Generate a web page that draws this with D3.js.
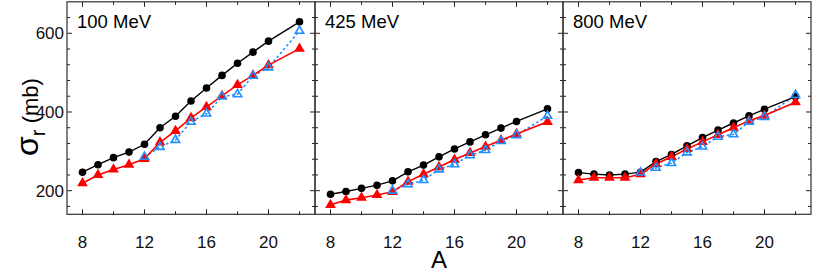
<!DOCTYPE html>
<html><head><meta charset="utf-8">
<script src="https://cdn.jsdelivr.net/npm/d3@7"></script>
<style>
html,body{margin:0;padding:0;background:#fff;}
text{font-family:"Liberation Sans Narrow","Liberation Sans",Arial,sans-serif;}
</style></head>
<body><svg id="c" width="820" height="275"></svg>
<script>
const massNumbers = [8,9,10,11,12,13,14,15,16,17,18,19,20,22];
const blueMass = [12,13,14,15,16,17,18,19,20,22];
const energies = ["100 MeV","425 MeV","800 MeV"];
const black100 = [247,266,284,298,318,360,389,428,461,493,524,552,580,629];
const red100   = [219,240,254,266,281,323,352,385,413,441,469,493,519,561];
const blue100  = [286,311,329,375,396,439,445,492,513,606];
const black425 = [191,198,206,214,225,248,265,286,306,324,342,359,376,408];
const red425   = [164,176,182,189,197,223,242,260,279,296,312,328,344,375];
const blue425  = [200,216,227,254,267,290,303,326,341,390];
const black800 = [246,242,240,242,247,274,292,314,335,354,372,390,407,439];
const red800   = [227,233,233,233,242,268,286,306,324,342,360,378,391,425];
const blue800  = [246,258,270,297,312,337,343,375,387,443];
const xTicks = [8,10,12,14,16,18,20,22];
const xTickLabels = [8,12,16,20];
const yTicks = [160,200,240,280,320,360,400,440,480,520,560,600,640];
const yTickLabels = [200,400,600];

const panels = [
  {label:energies[0], black:black100, red:red100, blue:blue100},
  {label:energies[1], black:black425, red:red425, blue:blue425},
  {label:energies[2], black:black800, red:red800, blue:blue800}
];

(function(){
const svg = d3.select("#c");
const pTop=1.8, pBottom=214.3, left0=67, pw=248;
const y = d3.scaleLinear().domain([140,680]).range([pBottom,pTop]);
const blueC="#1f8fff";

panels.forEach((p,i)=>{
  const L = left0 + i*pw, R = L+pw;
  const x = d3.scaleLinear().domain([7,23]).range([L,R]);
  const g = svg.append("g");
  xTicks.forEach(t=>{
    const major = xTickLabels.includes(t);
    const len = major?5:3;
    g.append("line").attr("x1",x(t)).attr("x2",x(t)).attr("y1",pBottom).attr("y2",pBottom-len).attr("stroke","#222").attr("stroke-width",1);
    g.append("line").attr("x1",x(t)).attr("x2",x(t)).attr("y1",pTop).attr("y2",pTop+len).attr("stroke","#222").attr("stroke-width",1);
  });
  yTicks.forEach(t=>{
    const major = yTickLabels.includes(t);
    const len = major?5:3;
    g.append("line").attr("x1",L).attr("x2",L+len).attr("y1",y(t)).attr("y2",y(t)).attr("stroke","#222");
    g.append("line").attr("x1",R).attr("x2",R-len).attr("y1",y(t)).attr("y2",y(t)).attr("stroke","#222");
  });
  g.append("rect").attr("x",L).attr("y",pTop).attr("width",pw).attr("height",pBottom-pTop)
    .attr("fill","none").attr("stroke","#333").attr("stroke-width",1.2);
  xTickLabels.forEach(t=>{
    g.append("text").attr("x",x(t)).attr("y",248).attr("text-anchor","middle")
      .attr("font-size",17).attr("fill","#111").text(t);
  });
  if(i===0){
    yTickLabels.forEach(t=>{
      g.append("text").attr("x",L-3).attr("y",y(t)+6).attr("text-anchor","end")
        .attr("font-size",17).attr("fill","#111").text(t);
    });
  }
  g.append("text").attr("x",L+10).attr("y",28).attr("font-size",18.5).attr("fill","#000")
    .style("font-family","'Liberation Sans',Arial,sans-serif").text(p.label);

  const line = d3.line().x(d=>x(d[0])).y(d=>y(d[1]));
  const bd = massNumbers.map((m,k)=>[m,p.black[k]]);
  const rd = massNumbers.map((m,k)=>[m,p.red[k]]);
  const ud = blueMass.map((m,k)=>[m,p.blue[k]]);
  g.append("path").attr("d",line(ud)).attr("fill","none").attr("stroke",blueC).attr("stroke-width",1.6).attr("stroke-dasharray","2.5,2.5");
  g.append("path").attr("d",line(rd)).attr("fill","none").attr("stroke","#ff0000").attr("stroke-width",1.6);
  g.append("path").attr("d",line(bd)).attr("fill","none").attr("stroke","#000").attr("stroke-width",1.4);
  g.selectAll(".bk").data(bd).enter().append("circle").attr("cx",d=>x(d[0])).attr("cy",d=>y(d[1])).attr("r",3.8).attr("fill","#000");
  g.selectAll(".rd").data(rd).enter().append("path").attr("d",d3.symbol().type(d3.symbolTriangle).size(50)()).attr("transform",d=>`translate(${x(d[0])},${y(d[1])})`).attr("fill","#ff0000");
  g.selectAll(".bl").data(ud).enter().append("path").attr("d",d3.symbol().type(d3.symbolTriangle).size(30)()).attr("transform",d=>`translate(${x(d[0])},${y(d[1])})`).attr("fill","none").attr("stroke",blueC).attr("stroke-width",1.6);
});

svg.append("text").attr("x",439).attr("y",268).attr("text-anchor","middle").attr("font-size",24).attr("fill","#000").text("A");
const yl = svg.append("text").attr("transform","translate(38,117) rotate(-90)").attr("text-anchor","middle").attr("fill","#000").style("font-family","'Liberation Sans',Arial,sans-serif");
yl.append("tspan").attr("font-size",32).text("σ");
yl.append("tspan").attr("font-size",20).attr("dy",7).text("r");
yl.append("tspan").attr("font-size",22).attr("dy",-7).text(" (mb)");
})();
</script></body></html>
